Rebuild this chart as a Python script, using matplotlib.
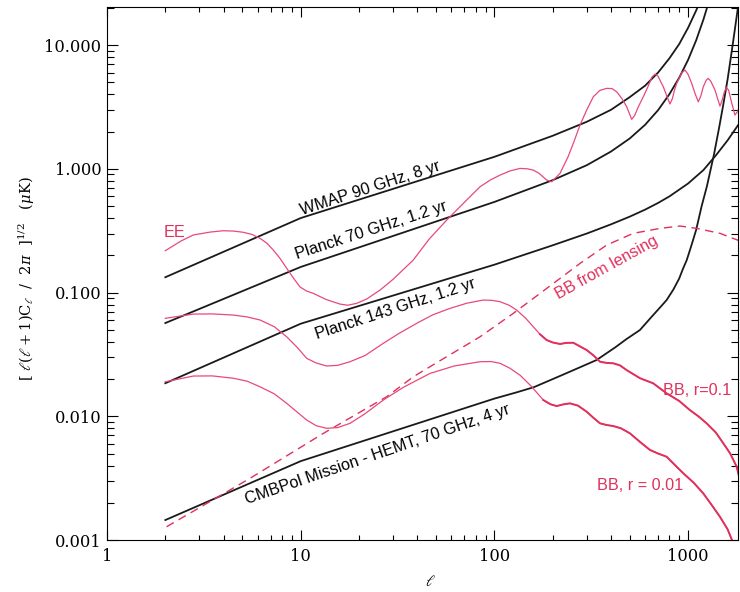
import matplotlib.pyplot as plt
from matplotlib.ticker import FixedLocator, LogLocator, NullFormatter, FuncFormatter

plt.rcParams['font.family'] = 'DejaVu Serif'
plt.rcParams['mathtext.fontset'] = 'dejavuserif'

# ---------------------------------------------------------------
# noise curves, [l(l+1)C_l/2pi]^1/2 in muK
# ---------------------------------------------------------------
ell_wmap = [2, 10, 100, 200, 300, 400, 500, 600, 700, 800, 900, 1000, 1100, 1150]
wmap_90 = [0.133, 0.40, 1.25, 1.85, 2.4, 3.0, 3.8, 4.7, 6.0, 7.8, 10.2, 13.8, 19.0, 22.5]

ell_p70 = [2, 10, 100, 200, 300, 400, 500, 600, 700, 800, 900, 1000, 1100, 1200, 1300]
planck_70 = [0.0567, 0.161, 0.54, 0.81, 1.07, 1.38, 1.76, 2.27, 2.98, 4.0, 5.45, 7.6, 10.9, 16.1, 24.3]

ell_p143 = [2, 10, 100, 200, 300, 400, 500, 600, 700, 800, 1000, 1200, 1400, 1600, 1810]
planck_143 = [0.0185, 0.056, 0.168, 0.241, 0.30, 0.356, 0.411, 0.468, 0.53, 0.598, 0.761, 0.977, 1.30, 1.70, 2.25]

ell_cmbpol = [2, 10, 100, 130, 160, 220, 280, 337, 420, 480, 564, 650, 710, 775, 840, 900, 940, 984,
              1040, 1100, 1175, 1250, 1361, 1450, 1514, 1600, 1706, 1810]
cmbpol_70 = [0.00145, 0.00434, 0.0139, 0.0156, 0.0172, 0.0213, 0.0251, 0.0285, 0.036, 0.042, 0.0498,
             0.064, 0.0746, 0.087, 0.106, 0.13, 0.155, 0.183, 0.24, 0.32, 0.50, 0.72, 1.31, 2.2, 3.2,
             5.3, 10.5, 20.3]

# ---------------------------------------------------------------
# signal spectra
# ---------------------------------------------------------------
ell_ee = [2, 2.4, 2.79, 3.4, 3.98, 4.5, 5.05, 5.6, 6.17, 6.7, 7.22, 7.8, 8.47, 9.2, 9.92, 10.7, 11.6,
          13.5, 15.96, 17.5, 19.45, 22, 25.7, 30, 38.1, 46, 56.7, 71.9, 84.3, 95, 107, 120, 135.6,
          148, 158.8, 170, 186.2, 197.6, 218.2, 240, 255.5, 276.7, 300, 324, 350, 380, 405, 428,
          455, 482, 500, 511.5, 530, 555, 587, 620, 650, 675, 700, 725, 745, 775, 806, 830, 850,
          873, 930, 964, 1000, 1044, 1090, 1129, 1165, 1198, 1240, 1272, 1310, 1377, 1420, 1461,
          1500, 1540, 1582, 1620, 1680, 1746, 1800, 1853]
ee = [0.218, 0.26, 0.292, 0.308, 0.316, 0.314, 0.307, 0.295, 0.274, 0.25, 0.2205, 0.19, 0.157,
      0.13, 0.111, 0.103, 0.0986, 0.088, 0.0807, 0.079, 0.0818, 0.089, 0.1048, 0.128, 0.183, 0.27,
      0.385, 0.559, 0.716, 0.81, 0.89, 0.96, 1.008, 1.0, 0.977, 0.92, 0.811, 0.786, 0.919, 1.25,
      1.606, 2.257, 3.0, 3.82, 4.3, 4.47, 4.45, 4.19, 3.7, 3.17, 2.75, 2.51, 2.7, 3.2, 3.82, 4.6,
      5.5, 5.83, 5.6, 5.0, 4.60, 3.9, 3.34, 3.7, 4.3, 4.90, 6.0, 6.28, 5.8, 4.90, 4.0, 3.48, 3.9,
      4.60, 5.2, 5.38, 5.1, 4.33, 3.7, 3.21, 3.6, 4.2, 4.55, 4.3, 3.4, 2.72, 2.9, 3.27]

ell_lens = [2.03, 5.47, 13.1, 27.8, 38.2, 56.7, 84.3, 125.2, 186.2, 276.7, 380, 521, 716, 908,
            1108, 1461, 1853]
bb_lens = [0.00128, 0.00315, 0.00728, 0.0144, 0.0209, 0.0303, 0.0439, 0.0679, 0.108, 0.172, 0.242,
           0.301, 0.330, 0.345, 0.330, 0.301, 0.261]

ell_r1 = [2, 2.79, 3.5, 4.49, 5.3, 6.17, 7.3, 8.47, 9.6, 10.74, 12, 13.6, 15.5, 17.97, 21.5, 26.7,
          32, 39.7, 48, 59.0, 72, 87.6, 97, 107, 119, 130.4, 145, 158.8, 172, 186.2, 200, 218.2,
          235, 255.5, 299.6, 325, 351, 380, 411, 445, 482, 565, 661, 775, 900, 1021, 1130, 1247,
          1390, 1520, 1650, 1782, 1853]
bb_r01 = [0.0619, 0.067, 0.0672, 0.0658, 0.0635, 0.060, 0.053, 0.0439, 0.036, 0.0294, 0.027,
          0.0255, 0.0258, 0.0276, 0.031, 0.0389, 0.0465, 0.0564, 0.066, 0.0745, 0.082, 0.087,
          0.0865, 0.0843, 0.079, 0.0722, 0.062, 0.0529, 0.046, 0.0413, 0.0395, 0.0384, 0.0392,
          0.0393, 0.0343, 0.031, 0.0276, 0.0270, 0.0268, 0.0258, 0.0236, 0.0203, 0.01846, 0.01532,
          0.0133, 0.01123, 0.0100, 0.00877, 0.0074, 0.00605, 0.0050, 0.00391, 0.00305]

ell_r2 = [2, 2.79, 3.5, 4.49, 5.3, 6.17, 7.3, 8.47, 9.6, 10.74, 12, 13.6, 15.5, 17.97, 21.5, 26.7,
          34, 46.5, 62, 84.3, 96, 107, 120, 135.6, 155, 178.9, 195, 209.7, 228, 245.6, 270, 299.6,
          325, 351, 380, 411, 450, 501, 565, 636, 700, 775, 860, 945, 1070, 1198, 1330, 1461, 1600,
          1712, 1853]
bb_r001 = [0.019, 0.02115, 0.0212, 0.0203, 0.0192, 0.0173, 0.0152, 0.01272, 0.0108, 0.00933,
           0.0084, 0.0080, 0.0081, 0.00877, 0.0105, 0.01353, 0.0172, 0.0222, 0.0255, 0.0276, 0.0277,
           0.0268, 0.0245, 0.0215, 0.0175, 0.01353, 0.0125, 0.0121, 0.0125, 0.01272, 0.0122,
           0.01088, 0.0097, 0.00877, 0.0085, 0.00834, 0.0080, 0.00728, 0.0062, 0.00534, 0.0050,
           0.00471, 0.0040, 0.00346, 0.0029, 0.00238, 0.0019, 0.00154, 0.00122, 0.00094, 0.0007]

BLACK = '#1a1a1a'
PINK = '#e8497a'
RED = '#e0305c'
SANS = 'Liberation Sans'

fig = plt.figure(figsize=(7.4, 5.92), dpi=100)
ax = fig.add_axes([0.1446, 0.0878, 0.8527, 0.9003])
ax.set_xscale('log')
ax.set_yscale('log')

ax.plot(ell_wmap, wmap_90, color=BLACK, lw=1.3)
ax.plot(ell_p70, planck_70, color=BLACK, lw=1.3)
ax.plot(ell_p143, planck_143, color=BLACK, lw=1.3)
ax.plot(ell_cmbpol, cmbpol_70, color=BLACK, lw=1.3)

ax.plot(ell_ee, ee, color=PINK, lw=0.9)
ax.plot(ell_lens, bb_lens, color=RED, lw=1.0, dashes=(6, 4))
ax.plot(ell_r1, bb_r01, color=PINK, lw=0.9)
ax.plot(ell_r2, bb_r001, color=PINK, lw=0.9)

# tensor BB drawn heavier past the recombination bump
i1 = next(i for i, l in enumerate(ell_r1) if l >= 170)
i2 = next(i for i, l in enumerate(ell_r2) if l >= 170)
ax.plot(ell_r1[i1:], bb_r01[i1:], color=RED, lw=1.4)
ax.plot(ell_r2[i2:], bb_r001[i2:], color=RED, lw=1.4)

ax.set_xlim(1, 1810)
ax.set_ylim(0.001, 20.3)

ax.xaxis.set_major_locator(FixedLocator([1, 10, 100, 1000]))
ax.xaxis.set_major_formatter(FuncFormatter(lambda v, p: f'{v:.0f}'))
ax.xaxis.set_minor_locator(LogLocator(base=10, subs=range(2, 10)))
ax.xaxis.set_minor_formatter(NullFormatter())
ax.yaxis.set_major_locator(FixedLocator([0.001, 0.01, 0.1, 1, 10]))
ax.yaxis.set_major_formatter(FuncFormatter(lambda v, p: f'{v:.3f}'))
ax.yaxis.set_minor_locator(LogLocator(base=10, subs=range(2, 10)))
ax.yaxis.set_minor_formatter(NullFormatter())

ax.tick_params(which='both', direction='in', top=True, right=True, width=0.8, labelsize=11.7)
ax.tick_params(axis='y', which='major', length=8, pad=4)
ax.tick_params(axis='y', which='minor', length=5)
ax.tick_params(axis='x', which='major', length=7.5, pad=6)
ax.tick_params(axis='x', which='minor', length=3.5)
for s in ax.spines.values():
    s.set_linewidth(0.8)

# curve annotations
ax.text(1.95, 0.303, 'EE', color=RED, fontsize=11.7, family=SANS, ha='left', va='center')
ax.text(22.8, 0.699, 'WMAP 90 GHz, 8 yr', fontsize=11.7, family=SANS, rotation=18,
        ha='center', va='center', rotation_mode='anchor')
ax.text(23.1, 0.32, 'Planck 70 GHz, 1.2 yr', fontsize=11.7, family=SANS, rotation=18,
        ha='center', va='center', rotation_mode='anchor')
ax.text(30.7, 0.0736, 'Planck 143 GHz, 1.2 yr', fontsize=11.7, family=SANS, rotation=18,
        ha='center', va='center', rotation_mode='anchor')
ax.text(24.8, 0.00495, 'CMBPol Mission - HEMT, 70 GHz, 4 yr', fontsize=11.7, family=SANS,
        rotation=19, ha='center', va='center', rotation_mode='anchor')
ax.text(381, 0.158, 'BB from lensing', color=RED, fontsize=11.7, family=SANS, rotation=29,
        ha='center', va='center', rotation_mode='anchor')
ax.text(1112, 0.0163, 'BB, r=0.1', color=RED, fontsize=11.7, family=SANS, ha='center', va='center')
ax.text(564, 0.00278, 'BB, r = 0.01', color=RED, fontsize=11.7, family=SANS, ha='center', va='center')

fig.text(27 / 740, 1 - 279 / 592,
         r'[ $\ell(\ell+1)$C$_\ell$  /  2$\pi$  ]$^{1/2}$   ($\mu$K)',
         rotation=90, ha='center', va='center', fontsize=10.5)
fig.text(430 / 740, 1 - 581 / 592, r'$\ell$', ha='center', va='center', fontsize=11)

fig.savefig('out.png', dpi=100, facecolor='white')
